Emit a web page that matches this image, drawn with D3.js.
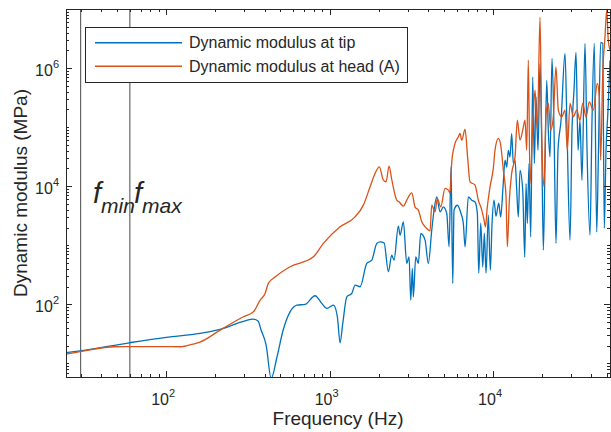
<!DOCTYPE html>
<html lang="en">
<head>
<meta charset="UTF-8" />
<script src="https://cdn.jsdelivr.net/npm/d3@7"></script>
<style>
  body { margin: 0; background: #fff; }
  text { font-family: "Liberation Sans", Arial, sans-serif; fill: #262626; }
</style>
</head>
<body>
<div id="chart"></div>
<script>
// Dynamic modulus at tip (Hz, MPa)
var tipFreq = [24.4, 29.8, 59.4, 100, 161, 214, 304, 340, 365, 381, 409, 439, 477, 520, 573, 632, 708, 815, 896, 961,
    1055, 1116, 1159, 1204, 1274, 1367, 1432, 1537, 1689, 1811, 1944, 2037, 2155, 2289, 2400, 2479, 2634, 2698, 2827, 2965,
    3063, 3138, 3209, 3254, 3366, 3491, 3612, 3838, 4018, 4217, 4356, 4524, 4742, 4966, 5210, 5383, 5534, 5669, 5770, 6047,
    6370, 6580, 6740, 7060, 7410, 7762, 8017, 8175, 8408, 8650, 8846, 9060, 9354, 9625, 9860, 10140, 10420, 10830, 11140, 11510,
    11840, 12130, 12400, 12700, 13000, 13310, 13630, 13960, 14280, 14620, 15190, 15630, 15920, 16210, 16600, 17000, 17490, 17890, 18320, 18840,
    19380, 19850, 20310, 20800, 21300, 21780, 22310, 22950, 23610, 24270, 24970, 26060, 27560, 28350, 29580, 30410, 31280, 32180, 33110, 34040,
    34990, 36520, 37580, 39180, 40310, 41640, 43060, 44160, 45550, 46880, 47920, 49100, 50500, 51940];
var tipMod = [15.2, 16.4, 22.4, 27.7, 32.4, 37.8, 52.7, 56.5, 52.2, 36.8, 20.5, 5.6, 13.0, 36.8, 74.8, 97.3, 100, 140, 104, 85.5,
    97.3, 61.7, 22.4, 47.6, 134, 153, 212, 199, 494, 560, 1076, 1143, 1102, 356, 682, 560, 2109, 1486, 2489, 494,
    637, 118, 406, 134, 637, 494, 1585, 1222, 494, 1803, 3926, 6592, 3681, 4467, 3451, 942, 21180, 226, 3926, 4764,
    3451, 2344, 942, 6592, 5800, 5420, 3451, 338, 2366, 427, 1604, 338, 3236, 380, 2366, 5800, 3105, 5152, 3027, 9727,
    27520, 21180, 40550, 31290, 77800, 24210, 27520, 8551, 3027, 18620, 8551, 631, 11110, 2344, 24210, 1390, 704700, 24210, 323600, 40550,
    1186000, 52720, 828, 24210, 619400, 88500, 31290, 1459000, 88500, 1074, 40550, 130600, 1770000, 88500, 1222, 88500, 419800, 1840000, 40550, 130600,
    12630, 2616000, 40550, 1486, 130600, 2616000, 1667, 40550, 2716000, 2616000, 1950, 40550, 192700, 1349000];

// Dynamic modulus at head (A)
var headFreq = [24.4, 29.8, 48.8, 79.8, 122, 146, 161, 214, 297, 342, 376, 403, 422, 464, 573, 796, 916, 1159, 1432, 1609,
    1769, 1897, 2016, 2133, 2215, 2312, 2400, 2576, 2661, 2827, 2965, 3183, 3334, 3491, 3664, 3930, 4118, 4217, 4419, 4563,
    4786, 5086, 5327, 5458, 5590, 5855, 6134, 6281, 6432, 6740, 6999, 7228, 7762, 8128, 8531, 8810, 8995, 9183, 9585, 10040,
    10280, 10780, 11140, 11560, 12010, 12230, 12580, 13000, 13630, 14080, 14620, 15190, 15690, 16070, 16440, 16840, 17490, 18060, 18660, 19380,
    19850, 20500, 21090, 21780, 22530, 23370, 24270, 25080, 26300, 27560, 28470, 29580, 30970, 32490, 34040, 35360, 37050, 38810, 41060, 43450,
    44670, 45550, 46880, 48420, 49590, 50700, 51940];
var headMod = [14.4, 15.8, 19.2, 19.3, 19.2, 21.3, 23.0, 36.7, 61.7, 75, 118, 153, 227, 290, 433, 639, 1076, 2056, 3034, 4786,
    9772, 16470, 21290, 12680, 11870, 21880, 13030, 5821, 5445, 4603, 5821, 7727, 4430, 3941, 2498, 1932, 1759, 4786, 3687, 6216,
    4480, 9183, 8590, 7640, 25880, 52970, 68550, 78200, 60260, 91410, 29510, 11860, 10430, 5821, 3941, 2669, 2056, 3941, 9772, 20230,
    40830, 64400, 49550, 18710, 6616, 943, 5821, 16470, 31440, 131300, 60260, 88920, 131300, 40830, 1360000, 11150, 101200, 422700, 88920, 7260000,
    78200, 9772, 170600, 251800, 88920, 149300, 1047000, 193900, 149300, 193900, 40830, 251800, 149300, 193900, 131300, 251800, 149300, 267900, 193900, 548300,
    325800, 27640, 810300, 3370000, 9550000, 2965000, 2010000];

var fMarks = [30, 60];
var fNames = ["min", "max"];
var xTicks = [100, 1000, 10000];
var yTicks = [1e2, 1e4, 1e6];
var seriesNames = ["Dynamic modulus at tip", "Dynamic modulus at head (A)"];
var colors = ["#0072BD", "#D95319"];

var pL = 66, pR = 610, pT = 9, pB = 377;

var svg = d3.select("#chart").append("svg")
    .attr("width", 611)
    .attr("height", 432);

var x = d3.scaleLog().domain([24.4, 51940]).range([pL, pR]);
var y = d3.scaleLog().domain([5.9, 1e7]).range([pB, pT]);

// minor ticks: 2..9 in each decade
var xMinor = [], yMinor = [];
for (var p = 1; p <= 4; p++) {
    for (var k = 1; k <= 9; k++) {
        var v = k * Math.pow(10, p);
        if (v >= 24.4 && v <= 51940 && xTicks.indexOf(v) < 0) xMinor.push(v);
    }
}
for (var p = 0; p <= 7; p++) {
    for (var k = 1; k <= 9; k++) {
        var v = k * Math.pow(10, p);
        if (v >= 5.9 && v <= 1e7 && yTicks.indexOf(v) < 0) yMinor.push(v);
    }
}

svg.append("clipPath").attr("id", "plotclip")
    .append("rect")
    .attr("x", pL).attr("y", pT)
    .attr("width", pR - pL).attr("height", pB - pT);

// f_min / f_max markers
svg.selectAll("line.fmark")
    .data(fMarks)
    .enter().append("line")
    .attr("class", "fmark")
    .attr("x1", d => x(d)).attr("x2", d => x(d))
    .attr("y1", pT).attr("y2", pB)
    .attr("stroke", "#4a4a4a")
    .attr("stroke-width", 1);

var line = d3.line()
    .curve(d3.curveMonotoneX)
    .x(d => x(d[0]))
    .y(d => y(d[1]));

var series = [
    d3.zip(tipFreq, tipMod),
    d3.zip(headFreq, headMod)
];

svg.append("g").attr("clip-path", "url(#plotclip)")
    .selectAll("path")
    .data(series)
    .enter().append("path")
    .attr("d", line)
    .attr("fill", "none")
    .attr("stroke", (d, i) => colors[i])
    .attr("stroke-width", 1.3)
    .attr("stroke-linejoin", "round");

// axes, ticks pointing inward on all four sides
function ticks(axis, scale, values, size, tr) {
    svg.append("g")
        .attr("transform", tr)
        .attr("shape-rendering", "crispEdges")
        .call(axis(scale).tickValues(values).tickSizeInner(size).tickSizeOuter(0).tickFormat(""))
        .call(g => g.select(".domain").remove())
        .selectAll("line").attr("stroke", "#262626");
}
ticks(d3.axisBottom, x, xTicks, -6, `translate(0,${pB})`);
ticks(d3.axisBottom, x, xMinor, -3, `translate(0,${pB})`);
ticks(d3.axisTop, x, xTicks, -6, `translate(0,${pT})`);
ticks(d3.axisTop, x, xMinor, -3, `translate(0,${pT})`);
ticks(d3.axisLeft, y, yTicks, -6, `translate(${pL},0)`);
ticks(d3.axisLeft, y, yMinor, -3, `translate(${pL},0)`);
ticks(d3.axisRight, y, yTicks, -6, `translate(${pR},0)`);
ticks(d3.axisRight, y, yMinor, -3, `translate(${pR},0)`);

svg.append("rect")
    .attr("x", pL).attr("y", pT)
    .attr("width", pR - pL).attr("height", pB - pT)
    .attr("fill", "none")
    .attr("stroke", "#262626")
    .attr("stroke-width", 1)
    .attr("shape-rendering", "crispEdges");

// tick labels 10^n
var xl = svg.selectAll("text.xlab")
    .data(xTicks)
    .enter().append("text")
    .attr("class", "xlab")
    .attr("x", d => x(d) - 3)
    .attr("y", 405)
    .attr("text-anchor", "middle")
    .style("font-size", "16px");
xl.append("tspan").text("10");
xl.append("tspan").attr("dy", -8).style("font-size", "11px").text(d => Math.round(Math.log10(d)));

var yl = svg.selectAll("text.ylab")
    .data(yTicks)
    .enter().append("text")
    .attr("class", "ylab")
    .attr("x", 59)
    .attr("y", d => y(d) + 8)
    .attr("text-anchor", "end")
    .style("font-size", "16px");
yl.append("tspan").text("10");
yl.append("tspan").attr("dy", -8).style("font-size", "11px").text(d => Math.round(Math.log10(d)));

// axis titles
svg.append("text")
    .attr("x", (pL + pR) / 2)
    .attr("y", 425)
    .attr("text-anchor", "middle")
    .style("font-size", "19px")
    .text("Frequency (Hz)");

svg.append("text")
    .attr("transform", `translate(27,${(pT + pB) / 2}) rotate(-90)`)
    .attr("text-anchor", "middle")
    .style("font-size", "19px")
    .text("Dynamic modulus (MPa)");

// f_min f_max labels
var fl = svg.selectAll("text.flab")
    .data(fMarks)
    .enter().append("text")
    .attr("class", "flab")
    .attr("x", (d, i) => i == 0 ? 93 : 134)
    .attr("y", 203)
    .style("font-style", "italic")
    .style("font-size", "29px");
fl.append("tspan").text("f");
fl.append("tspan").attr("dy", 10).style("font-size", "21px").text((d, i) => fNames[i]);

// legend
var lg = svg.append("g");
lg.append("rect")
    .attr("x", 85.5).attr("y", 27.5)
    .attr("width", 322).attr("height", 55)
    .attr("fill", "#fff")
    .attr("stroke", "#262626")
    .attr("stroke-width", 1);
var items = lg.selectAll("g.item")
    .data(seriesNames)
    .enter().append("g")
    .attr("class", "item")
    .attr("transform", (d, i) => `translate(0,${i == 0 ? 42.7 : 66.3})`);
items.append("line")
    .attr("x1", 95).attr("x2", 182)
    .attr("stroke", (d, i) => colors[i])
    .attr("stroke-width", 1.5);
items.append("text")
    .attr("x", 189)
    .attr("dy", "0.35em")
    .style("font-size", "16px")
    .text(d => d);
</script>
</body>
</html>
